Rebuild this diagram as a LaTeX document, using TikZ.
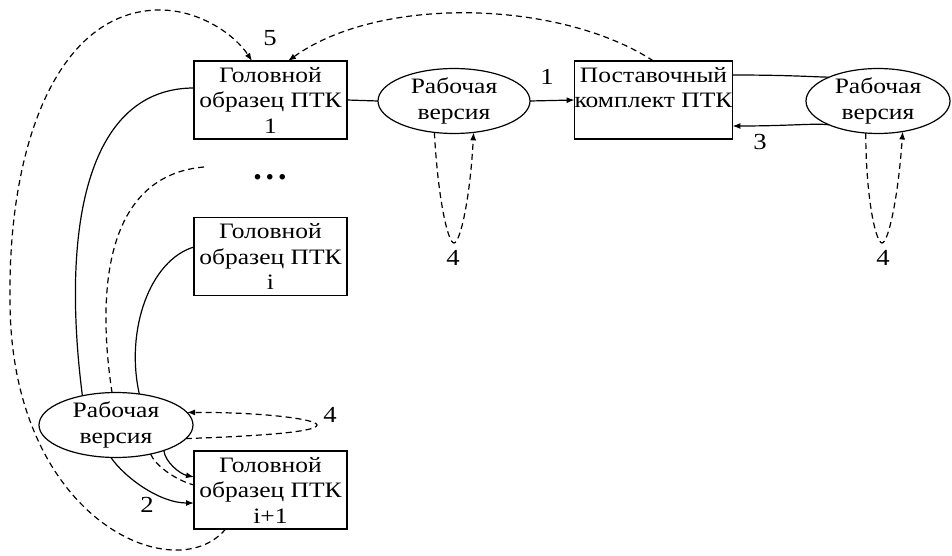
\documentclass[tikz,border=0pt]{standalone}
\usepackage{fontspec}
\setmainfont{Liberation Serif}
\usetikzlibrary{arrows.meta,shapes.geometric}
\newcommand\sx[1]{\scalebox{1.16}[1]{#1}}
\begin{document}
\begin{tikzpicture}[x=1pt,y=-1pt,
  every node/.style={font=\fontsize{22}{25.5}\selectfont, inner sep=0pt, outer sep=0pt},
  box/.style={draw, line width=1.2pt, minimum width=153pt, minimum height=78pt, align=center},
  ell/.style={draw, line width=1.2pt, ellipse, minimum width=152pt, minimum height=52pt, align=center},
  conn/.style={line width=1.2pt},
  dsh/.style={line width=1.2pt, dash pattern=on 6pt off 4pt},
  tip/.style={-{Latex[length=8pt,width=6pt]}},
  lbl/.style={font=\fontsize{23}{24}\selectfont}]
\useasboundingbox (0,0) rectangle (952,556);
% nodes
\node[box] (b1) at (270.5,100) {\sx{Головной}\\\sx{образец ПТК}\\\sx{1}};
\node[box] (bi) at (270.5,256.5) {\sx{Головной}\\\sx{образец ПТК}\\\sx{i}};
\node[box] (bn) at (270.5,490) {\sx{Головной}\\\sx{образец ПТК}\\\sx{i+1}};
\node[box] (bp) at (653.5,100) {\sx{Поставочный}\\\sx{комплект ПТК}\\~};
\node[ell] (e1) at (454,101) {\sx{Рабочая}\\\sx{версия}};
\node[ell, minimum width=144pt] (e2) at (878,101) {\sx{Рабочая}\\\sx{версия}};
\node[ell, minimum width=154pt] (e3) at (116,425) {\sx{Рабочая}\\\sx{версия}};
\node[font=\fontsize{34}{34}\selectfont\bfseries] (dots) at (270,177) {.\hspace{4pt}.\hspace{4pt}.};
% labels
\node[lbl] (l5) at (270,38) {\sx{5}};
\node[lbl] (l1) at (547,77) {\sx{1}};
\node[lbl] (l3) at (760,142) {\sx{3}};
\node[lbl] (l4a) at (453,258) {\sx{4}};
\node[lbl] (l4b) at (883,258) {\sx{4}};
\node[lbl] (l4c) at (330,415) {\sx{4}};
\node[lbl] (l2) at (147,505) {\sx{2}};
\coordinate (free) at (204,167);
% solid connectors
\draw[conn] (b1.east) -- (e1.west);
\draw[conn,tip] (e1.east) -- (bp.west);
\draw[conn] ([yshift=25pt]bp.east) .. controls (790,75) and (815,77) .. (e2.154);
\draw[conn,tip] (e2.206) .. controls (815,123) and (790,126) .. ([yshift=-26pt]bp.east);
\draw[conn] ([yshift=12pt]b1.west) .. controls (90,88) and (60,220) .. (e3.139);
\draw[conn] ([yshift=9.5pt]bi.west) .. controls (150,260) and (125,330) .. (e3.53);
\draw[conn,tip] (e3.332) .. controls (165,462) and (180,474) .. ([yshift=13pt]bn.west);
\draw[conn,tip] (e3.261) .. controls (125,478) and (160,503) .. ([yshift=-13pt]bn.west);
% dashed connectors
\draw[dsh] (free) .. controls (110,175) and (95,280) .. (e3.97);
\draw[dsh] (e3.320) .. controls (155,465) and (175,480) .. ([yshift=5pt]bn.west);
\draw[dsh,tip] (e3.349) .. controls (260,436) and (317,432) .. (317,425) .. controls (317,419) and (260,412) .. (e3.10);
\draw[dsh,tip] (e1.238) .. controls (438,200) and (448,243) .. (454,243) .. controls (460,243) and (470,200) .. (e1.302);
\draw[dsh,tip] (e2.249) .. controls (866,200) and (876,243) .. (882,243) .. controls (888,243) and (898,200) .. (e2.309);
\draw[dsh,tip] (bn.221) .. controls (175,590) and (10,520) .. (10,300) .. controls (8,140) and (60,10) .. (160,10) .. controls (200,10) and (235,35) .. ([xshift=-18.5pt]b1.north);
\draw[dsh,tip] (bp.north) .. controls (560,0) and (380,-5) .. ([xshift=17.5pt]b1.north);
\end{tikzpicture}
\end{document}
